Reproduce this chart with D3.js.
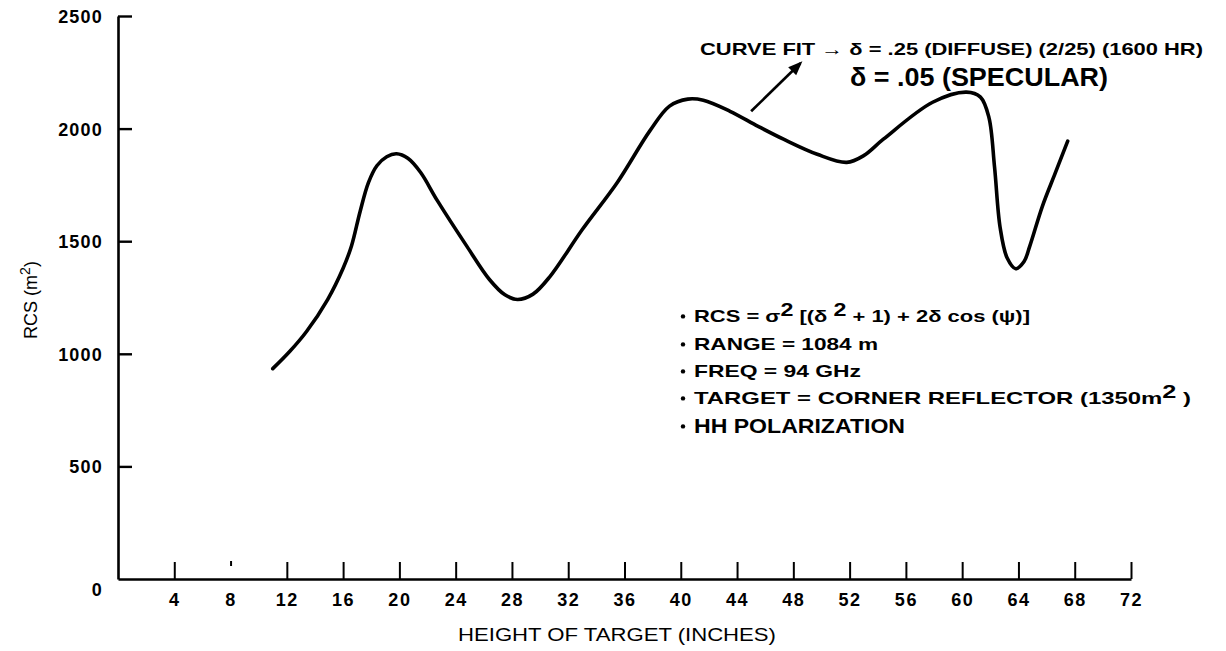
<!DOCTYPE html>
<html>
<head>
<meta charset="utf-8">
<script src="https://cdn.jsdelivr.net/npm/d3@7"></script>
<style>
  html, body { margin: 0; padding: 0; background: #fff; }
  svg { display: block; font-family: "Liberation Sans", Arial, Helvetica, sans-serif; }
</style>
</head>
<body>
<svg id="chart" width="1226" height="651"></svg>
<script>
// Height of target (inches) and measured RCS (m^2) along the fitted curve
const heights = [11.0, 12.2, 13.4, 14.9, 16.0, 16.6, 17.2, 17.8, 18.4, 19.1, 19.8, 20.6, 21.5, 22.7,
                 24.8, 26.4, 27.5, 28.4, 29.5, 30.7, 33.0, 35.5, 37.8, 39.2, 40.5, 41.6, 43.5, 45.5,
                 47.3, 49.7, 51.8, 53.0, 54.4, 57.9, 60.3, 61.3, 61.9, 62.3, 62.7, 63.2, 63.8, 64.4,
                 64.8, 65.7, 66.6, 67.5];
const rcs = [934, 1010, 1099, 1241, 1380, 1480, 1630, 1760, 1835, 1875, 1888, 1868, 1806, 1680,
             1477, 1330, 1262, 1241, 1265, 1343, 1552, 1762, 1990, 2100, 2131, 2126, 2077, 2010,
             1953, 1886, 1850, 1880, 1953, 2117, 2162, 2140, 2050, 1830, 1560, 1425, 1378, 1410,
             1477, 1655, 1800, 1944];

const xTicks = [4, 8, 12, 16, 20, 24, 28, 32, 36, 40, 44, 48, 52, 56, 60, 64, 68, 72];
const yTicks = [0, 500, 1000, 1500, 2000, 2500];

// Arrow pointing from the curve to the fit note: [height, rcs] of tail and head
const arrowTail = [45.0, 2077];
const arrowHead = [48.5, 2290];

const svg = d3.select("#chart");
svg.append("rect").attr("width", 1226).attr("height", 651).attr("fill", "#fff");

const x = d3.scaleLinear().domain([0, 72]).range([118, 1131]);
const y = d3.scaleLinear().domain([0, 2500]).range([579, 16]);

// Y axis: ticks pointing inward, bold numbers on the left
const yAxis = svg.append("g")
  .attr("transform", `translate(${x(0)},0)`)
  .call(d3.axisLeft(y).tickValues(yTicks).tickFormat(d3.format("d"))
        .tickSizeInner(-14).tickSizeOuter(0).tickPadding(15));
yAxis.selectAll("path.domain").attr("stroke", "#000").attr("stroke-width", 2.6);
yAxis.selectAll(".tick line").attr("stroke", "#000").attr("stroke-width", 2.4);
yAxis.selectAll(".tick text")
  .attr("fill", "#000").style("font-size", "18px").style("font-weight", "bold")
  .style("letter-spacing", "1.2px")
  .attr("dy", d => d === 0 ? "0.9em" : "0.36em");
yAxis.selectAll(".tick").filter(d => d === 0).select("line").remove();

// X axis: ticks pointing up, closing tick at the right end
const xAxis = svg.append("g")
  .attr("transform", `translate(0,${y(0)})`)
  .call(d3.axisBottom(x).tickValues(xTicks).tickFormat(d3.format("d"))
        .tickSizeInner(-17).tickSizeOuter(0).tickPadding(14));
xAxis.selectAll("path.domain").attr("stroke", "#000").attr("stroke-width", 2.6);
xAxis.selectAll(".tick line").attr("stroke", "#000").attr("stroke-width", 2);
xAxis.selectAll(".tick").filter(d => d === 8).select("line").attr("y1", -13).attr("y2", -18);
xAxis.selectAll(".tick text")
  .attr("fill", "#000").style("font-size", "18px").style("font-weight", "bold")
  .style("letter-spacing", "1.5px");

// Axis titles
svg.append("text")
  .attr("x", 617).attr("y", 641)
  .attr("text-anchor", "middle")
  .attr("textLength", 318).attr("lengthAdjust", "spacingAndGlyphs")
  .style("font-size", "18px").attr("fill", "#000")
  .text("HEIGHT OF TARGET (INCHES)");

const yTitle = svg.append("text")
  .attr("transform", "translate(37,300) rotate(-90)")
  .attr("text-anchor", "middle")
  .style("font-size", "18px").attr("fill", "#000");
yTitle.append("tspan").text("RCS (m");
yTitle.append("tspan").attr("dy", -7).style("font-size", "14px").text("2");
yTitle.append("tspan").attr("dy", 7).text(")");

// Fitted RCS curve
const line = d3.line()
  .x((d, i) => x(heights[i]))
  .y(d => y(d))
  .curve(d3.curveCatmullRom.alpha(0.5));
svg.append("path")
  .attr("d", line(rcs))
  .attr("fill", "none")
  .attr("stroke", "#000")
  .attr("stroke-width", 3.6)
  .attr("stroke-linejoin", "round")
  .attr("stroke-linecap", "round");

// Curve-fit note with its arrow
svg.append("defs").append("marker")
  .attr("id", "head").attr("viewBox", "0 0 10 10")
  .attr("refX", 8).attr("refY", 5)
  .attr("markerWidth", 5.5).attr("markerHeight", 5.5)
  .attr("orient", "auto")
  .append("path").attr("d", "M0,1 L10,5 L0,9 Z").attr("fill", "#000");
svg.append("line")
  .attr("x1", x(arrowTail[0])).attr("y1", y(arrowTail[1]))
  .attr("x2", x(arrowHead[0])).attr("y2", y(arrowHead[1]))
  .attr("stroke", "#000").attr("stroke-width", 2.6)
  .attr("marker-end", "url(#head)");

svg.append("text")
  .attr("x", 700).attr("y", 55)
  .attr("textLength", 503).attr("lengthAdjust", "spacingAndGlyphs")
  .style("font-size", "17px").style("font-weight", "bold").attr("fill", "#000")
  .text("CURVE FIT \u2192 \u03B4 = .25 (DIFFUSE) (2/25) (1600 HR)");
svg.append("text")
  .attr("x", 850).attr("y", 86)
  .attr("textLength", 258).attr("lengthAdjust", "spacingAndGlyphs")
  .style("font-size", "25px").style("font-weight", "bold").attr("fill", "#000")
  .text("\u03B4 = .05 (SPECULAR)");

// Parameter list
const notes = [
  { y: 322, w: 336, size: 17, parts: [["RCS = \u03C3", 0], ["2", 1], [" [(\u03B4 ", 0], ["2", 1], [" + 1) + 2\u03B4 cos (\u03C8)]", 0]] },
  { y: 350, w: 184, size: 17, parts: [["RANGE = 1084 m", 0]] },
  { y: 377, w: 167, size: 17, parts: [["FREQ = 94 GHz", 0]] },
  { y: 404, w: 497, size: 17, parts: [["TARGET = CORNER REFLECTOR (1350m", 0], ["2", 1], [" )", 0]] },
  { y: 433, w: 211, size: 20, parts: [["HH POLARIZATION", 0]] }
];
const noteG = svg.append("g");
notes.forEach(n => {
  noteG.append("circle").attr("cx", 683).attr("cy", n.y - n.size * 0.33).attr("r", 2.2).attr("fill", "#000");
  const t = noteG.append("text")
    .attr("x", 694).attr("y", n.y)
    .attr("textLength", n.w).attr("lengthAdjust", "spacingAndGlyphs")
    .style("font-size", n.size + "px").style("font-weight", "bold").attr("fill", "#000");
  n.parts.forEach(([s, sup]) => {
    const sp = t.append("tspan").text(s);
    if (sup) sp.attr("dy", -6).style("font-size", (n.size + 1) + "px");
    else if (t.selectAll("tspan").size() > 1) sp.attr("dy", 6);
  });
});
</script>
</body>
</html>
